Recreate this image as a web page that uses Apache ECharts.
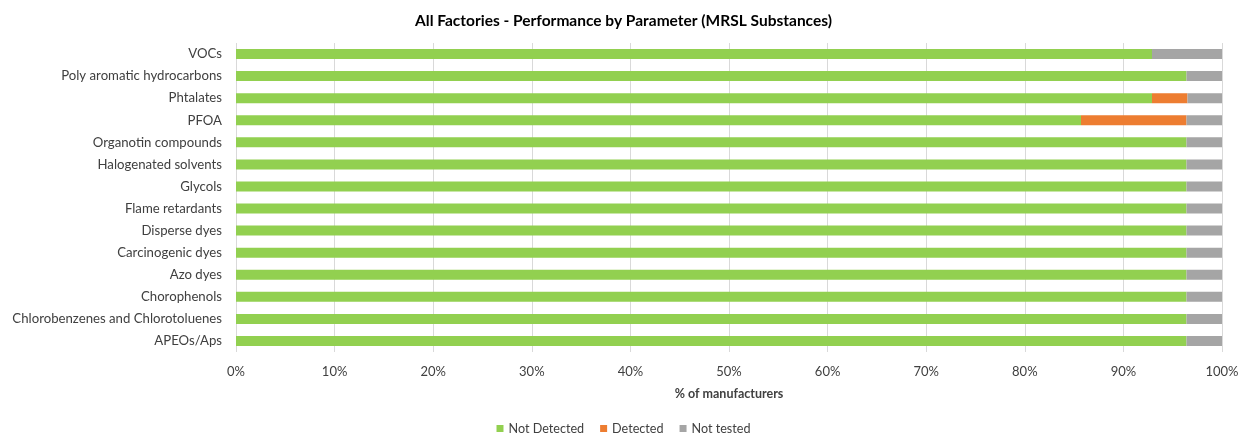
<!DOCTYPE html>
<html>
<head>
<meta charset="utf-8">
<script src="https://cdn.jsdelivr.net/npm/echarts@6/dist/echarts.min.js"></script>
<style>html,body{margin:0;padding:0;background:#fff}#main{width:1247px;height:436px}</style>
</head>
<body>
<div id="main"></div>
<script>
var categories = ['APEOs/Aps', 'Chlorobenzenes and Chlorotoluenes', 'Chorophenols', 'Azo dyes',
    'Carcinogenic dyes', 'Disperse dyes', 'Flame retardants', 'Glycols', 'Halogenated solvents',
    'Organotin compounds', 'PFOA', 'Phtalates', 'Poly aromatic hydrocarbons', 'VOCs'];
var notDetected = [96.4, 96.4, 96.4, 96.4, 96.4, 96.4, 96.4, 96.4, 96.4, 96.4, 85.7, 92.9, 96.4, 92.9];
var detected    = [0, 0, 0, 0, 0, 0, 0, 0, 0, 0, 10.7, 3.6, 0, 0];
var notTested   = [3.6, 3.6, 3.6, 3.6, 3.6, 3.6, 3.6, 3.6, 3.6, 3.6, 3.6, 3.5, 3.6, 7.1];

var font = 'Lato, "Open Sans", sans-serif';
var myChart = echarts.init(document.getElementById('main'), null, {renderer: 'canvas'});

function bar(name, data, color) {
    return {
        name: name,
        type: 'bar',
        stack: 'total',
        barWidth: 10,
        itemStyle: {color: color},
        data: data
    };
}

var option = {
    animation: false,
    title: {
        text: 'All Factories - Performance by Parameter (MRSL Substances)',
        left: 'center',
        top: 8,
        textStyle: {fontFamily: font, fontSize: 15.5, fontWeight: 'bold', color: '#000'}
    },
    legend: {
        bottom: -4,
        left: 'center',
        itemWidth: 7,
        itemHeight: 7,
        itemGap: 16,
        icon: 'rect',
        textStyle: {fontFamily: font, fontSize: 12.6, color: '#404040'},
        data: ['Not Detected', 'Detected', 'Not tested']
    },
    grid: {left: 236, right: 25, top: 43, bottom: 84, containLabel: false},
    xAxis: {
        type: 'value',
        min: 0,
        max: 100,
        interval: 10,
        name: '% of manufacturers',
        nameLocation: 'middle',
        nameGap: 35,
        nameTextStyle: {fontFamily: font, fontSize: 12.5, fontWeight: 'bold', color: '#404040'},
        axisLabel: {formatter: '{value}%', fontFamily: font, fontSize: 13, color: '#404040', margin: 13},
        axisLine: {show: false},
        axisTick: {show: false},
        splitLine: {lineStyle: {color: '#d9d9d9', width: 1}}
    },
    yAxis: {
        type: 'category',
        data: categories,
        axisLabel: {fontFamily: font, fontSize: 13.2, color: '#404040', margin: 14},
        axisLine: {show: false},
        axisTick: {show: false}
    },
    series: [
        bar('Not Detected', notDetected, '#92D050'),
        bar('Detected', detected, '#ED7D31'),
        bar('Not tested', notTested, '#A5A5A5')
    ]
};
myChart.setOption(option);
</script>
</body>
</html>
